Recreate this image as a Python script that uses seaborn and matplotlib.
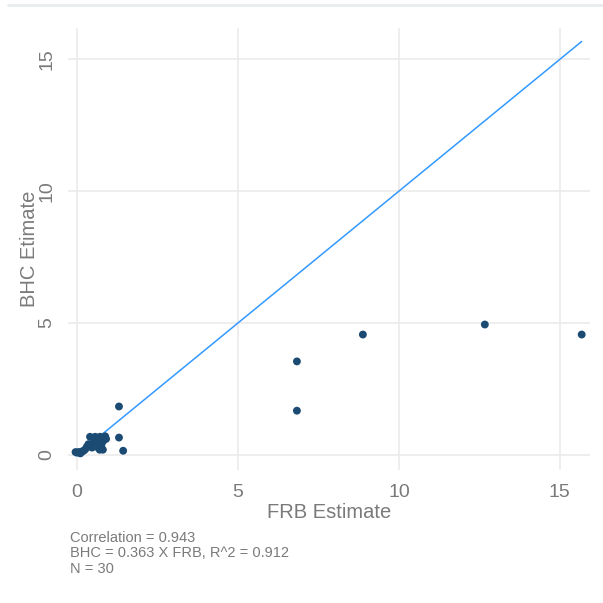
import matplotlib
matplotlib.use("Agg")
import matplotlib.pyplot as plt
import seaborn as sns
import pandas as pd
from matplotlib.lines import Line2D

# FRB vs BHC estimates
frb = [15.68, 12.67, 8.88, 6.83, 6.83, 1.30, 1.30, 1.43,
       -0.05, 0.05, 0.15, 0.10, 0.30, 0.46, 0.70, 0.80,
       0.50, 0.65, 0.80, 0.40, 0.56, 0.71, 0.87, 0.25,
       0.60, 0.75, 0.35, 0.20, 0.02, 0.90]
bhc = [4.56, 4.94, 4.56, 3.54, 1.67, 1.83, 0.65, 0.15,
       0.10, 0.10, 0.12, 0.05, 0.30, 0.27, 0.19, 0.19,
       0.45, 0.45, 0.50, 0.68, 0.68, 0.68, 0.70, 0.20,
       0.30, 0.35, 0.40, 0.15, 0.08, 0.60]
caption = ["Correlation = 0.943",
           "BHC = 0.363 X FRB, R^2 = 0.912",
           "N = 30"]

df = pd.DataFrame({"FRB": frb, "BHC": bhc})

sns.set_theme(style="whitegrid")
plt.rcParams['font.family'] = ['Liberation Sans', 'DejaVu Sans']

fig = plt.figure(figsize=(6.03, 6.03), dpi=100)
ax = fig.add_axes([0.113, 0.221, 0.865, 0.733])

# identity line across the range of the data
lo, hi = df["FRB"].min(), df["FRB"].max()
ax.plot([lo, hi], [lo, hi], color="#3399ff", lw=1.1, zorder=2)
sns.scatterplot(data=df, x="FRB", y="BHC", ax=ax, color="#1b4a72",
                s=32, edgecolor="none", zorder=3)

ax.set_xlim(-0.28, 15.93)
ax.set_ylim(-0.57, 16.2)
ax.set_xticks([0, 5, 10, 15])
ax.set_yticks([0, 5, 10, 15])
ax.grid(True, color="#ebebeb", lw=1.2)
for s in ax.spines.values():
    s.set_visible(False)
ax.tick_params(axis="both", length=0, labelsize=14, labelcolor="#7a7a7a")
ax.tick_params(axis="x", pad=10)
ax.tick_params(axis="y", pad=9)
for lab in ax.get_yticklabels():
    lab.set_rotation(90)
    lab.set_va("center")
ax.set_xlabel("FRB Estimate", fontsize=14.5, color="#7a7a7a", labelpad=2)
ax.set_ylabel("BHC Etimate", fontsize=14.5, color="#7a7a7a", labelpad=0)

fig.text(0.116, 0.045, "\n".join(caption), fontsize=10.5, color="#7a7a7a",
         ha="left", va="bottom", linespacing=1.15)

# thin divider line at the top
fig.add_artist(Line2D([0.013, 1.0], [0.992, 0.992], color="#e8ecee", lw=2,
                      transform=fig.transFigure))

fig.savefig("out.png", dpi=100)
